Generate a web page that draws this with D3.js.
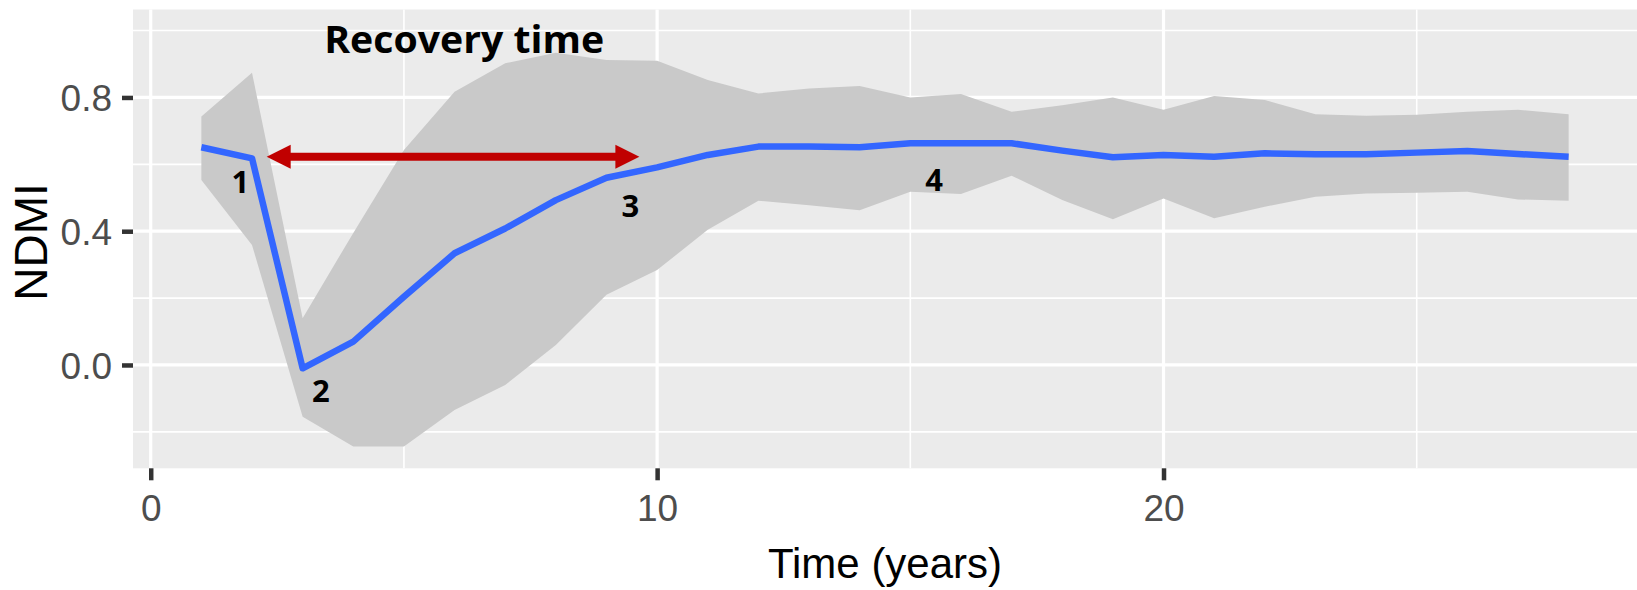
<!DOCTYPE html>
<html>
<head>
<meta charset="utf-8">
<script src="https://cdn.jsdelivr.net/npm/d3@7"></script>
<style>
    html, body { margin: 0; padding: 0; background: #fff; }
    svg { display: block; }
</style>
</head>
<body>
<svg id="chart" width="1637" height="590"></svg>
<script>
// years since disturbance
const years = [1, 2, 3, 4, 5, 6, 7, 8, 9, 10, 11, 12, 13, 14, 15, 16, 17, 18, 19, 20, 21, 22, 23, 24, 25, 26, 27, 28]
// mean NDMI (blue line)
const ndmiMean = [0.651, 0.618, -0.010, 0.070, 0.204, 0.334, 0.408, 0.493, 0.560, 0.591, 0.628, 0.653, 0.653, 0.651,
    0.663, 0.663, 0.663, 0.641, 0.621, 0.628, 0.623, 0.633, 0.630, 0.630, 0.635, 0.640, 0.631, 0.623]
// ribbon bounds
const ndmiUpper = [0.743, 0.874, 0.140, 0.395, 0.643, 0.817, 0.902, 0.934, 0.912, 0.910, 0.852, 0.812, 0.827, 0.834,
    0.800, 0.810, 0.757, 0.777, 0.800, 0.763, 0.804, 0.792, 0.750, 0.745, 0.748, 0.757, 0.763, 0.750]
const ndmiLower = [0.553, 0.359, -0.155, -0.244, -0.244, -0.135, -0.060, 0.060, 0.210, 0.284, 0.404, 0.491, 0.478, 0.463,
    0.518, 0.511, 0.566, 0.493, 0.436, 0.498, 0.439, 0.473, 0.503, 0.513, 0.515, 0.518, 0.495, 0.491]

const xMajor = [0, 10, 20]
const xMinor = [5, 15, 25]
const yMajor = [0.0, 0.4, 0.8]
const yMinor = [-0.2, 0.2, 0.6, 1.0]

// phase labels and the recovery arrow, in data units
const phaseLabels = [
    {text: '1', x: 1.77, y: 0.514},
    {text: '2', x: 3.36, y: -0.111},
    {text: '3', x: 9.47, y: 0.443},
    {text: '4', x: 15.47, y: 0.519}
]
const recoveryArrow = {x0: 2.29, x1: 9.65, y: 0.623}
const recoveryTitle = {text: 'Recovery time', x: 6.19, y: 0.932}

const PANEL = {left: 133, right: 1637, top: 9.5, bottom: 468.3}
const BLUE = '#3366ff'
const RED = '#c00000'

const svg = d3.select('#chart')

const x = d3.scaleLinear().domain([-0.35, 29.35]).range([PANEL.left, PANEL.right])
const y = d3.scaleLinear().domain([-0.309, 1.063]).range([PANEL.bottom, PANEL.top])

// panel
svg.append('rect')
    .attr('x', PANEL.left)
    .attr('y', PANEL.top)
    .attr('width', PANEL.right - PANEL.left)
    .attr('height', PANEL.bottom - PANEL.top)
    .attr('fill', '#ebebeb')

const grid = svg.append('g').attr('stroke', '#fff')

grid.selectAll('.y-minor').data(yMinor).enter()
    .append('line')
        .attr('x1', PANEL.left).attr('x2', PANEL.right)
        .attr('y1', (d) => y(d)).attr('y2', (d) => y(d))
        .attr('stroke-width', 1.6)
grid.selectAll('.x-minor').data(xMinor).enter()
    .append('line')
        .attr('y1', PANEL.top).attr('y2', PANEL.bottom)
        .attr('x1', (d) => x(d)).attr('x2', (d) => x(d))
        .attr('stroke-width', 1.6)
grid.selectAll('.y-major').data(yMajor).enter()
    .append('line')
        .attr('x1', PANEL.left).attr('x2', PANEL.right)
        .attr('y1', (d) => y(d)).attr('y2', (d) => y(d))
        .attr('stroke-width', 3.2)
grid.selectAll('.x-major').data(xMajor).enter()
    .append('line')
        .attr('y1', PANEL.top).attr('y2', PANEL.bottom)
        .attr('x1', (d) => x(d)).attr('x2', (d) => x(d))
        .attr('stroke-width', 3.2)

const rows = years.map((yr, i) => ({x: yr, mean: ndmiMean[i], lo: ndmiLower[i], hi: ndmiUpper[i]}))

// confidence ribbon
svg.append('path')
    .datum(rows)
    .attr('fill', '#c9c9c9')
    .attr('d', d3.area()
        .x((d) => x(d.x))
        .y0((d) => y(d.lo))
        .y1((d) => y(d.hi)))

// mean line
svg.append('path')
    .datum(rows)
    .attr('fill', 'none')
    .attr('stroke', BLUE)
    .attr('stroke-width', 6.5)
    .attr('stroke-linejoin', 'round')
    .attr('d', d3.line()
        .x((d) => x(d.x))
        .y((d) => y(d.mean)))

// axes
const xAxis = d3.axisBottom(x).tickValues(xMajor).tickSize(12).tickPadding(14).tickFormat(d3.format('d'))
const yAxis = d3.axisLeft(y).tickValues(yMajor).tickSize(11).tickPadding(10).tickFormat(d3.format('.1f'))

const gx = svg.append('g').attr('transform', `translate(0,${PANEL.bottom})`).call(xAxis)
const gy = svg.append('g').attr('transform', `translate(${PANEL.left},0)`).call(yAxis)

;[gx, gy].forEach((g) => {
    g.select('.domain').remove()
    g.selectAll('.tick line').attr('stroke', '#333').attr('stroke-width', 4.5)
    g.selectAll('.tick text')
        .attr('fill', '#4d4d4d')
        .style('font-family', '"Liberation Sans", Arial, sans-serif')
        .style('font-size', '37px')
})
gx.selectAll('.tick text').attr('dy', '0.71em')
gy.selectAll('.tick text').attr('dy', '0.36em')

svg.append('text')
    .attr('x', (PANEL.left + PANEL.right) / 2)
    .attr('y', 578)
    .attr('text-anchor', 'middle')
    .style('font-family', '"Liberation Sans", Arial, sans-serif')
    .style('font-size', '42px')
    .text('Time (years)')

svg.append('text')
    .attr('transform', 'translate(47,242) rotate(-90)')
    .attr('text-anchor', 'middle')
    .style('font-family', '"Liberation Sans", Arial, sans-serif')
    .style('font-size', '46px')
    .text('NDMI')

// annotations
const ax0 = x(recoveryArrow.x0)
const ax1 = x(recoveryArrow.x1)
const ay = y(recoveryArrow.y)
const headLen = 24
const headHalf = 12

svg.append('line')
    .attr('x1', ax0 + headLen - 2).attr('x2', ax1 - headLen + 2)
    .attr('y1', ay).attr('y2', ay)
    .attr('stroke', RED)
    .attr('stroke-width', 8)
svg.append('path')
    .attr('fill', RED)
    .attr('d', `M${ax0},${ay} L${ax0 + headLen},${ay - headHalf} L${ax0 + headLen},${ay + headHalf} Z`)
svg.append('path')
    .attr('fill', RED)
    .attr('d', `M${ax1},${ay} L${ax1 - headLen},${ay - headHalf} L${ax1 - headLen},${ay + headHalf} Z`)

svg.append('text')
    .attr('x', x(recoveryTitle.x))
    .attr('y', y(recoveryTitle.y))
    .attr('text-anchor', 'middle')
    .attr('textLength', 280)
    .attr('lengthAdjust', 'spacingAndGlyphs')
    .style('font-family', '"Open Sans", sans-serif')
    .style('font-weight', 700)
    .style('font-size', '38px')
    .text(recoveryTitle.text)

svg.selectAll('.phase').data(phaseLabels).enter()
    .append('text')
        .attr('class', 'phase')
        .attr('x', (d) => x(d.x))
        .attr('y', (d) => y(d.y))
        .attr('text-anchor', 'middle')
        .style('font-family', '"Open Sans", sans-serif')
        .style('font-weight', 700)
        .style('font-size', '31px')
        .text((d) => d.text)
</script>
</body>
</html>
